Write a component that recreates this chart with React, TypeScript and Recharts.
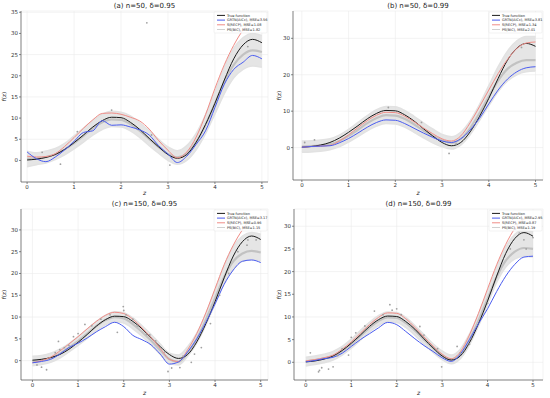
import React from "react";
import {
  ComposedChart,
  Line,
  Area,
  Scatter,
  XAxis,
  YAxis,
  CartesianGrid,
} from "recharts";

const Z = [0, 0.2, 0.4, 0.6, 0.8, 1, 1.2, 1.4, 1.6, 1.8, 2, 2.2, 2.4, 2.6, 2.8, 3, 3.2, 3.4, 3.6, 3.8, 4, 4.2, 4.4, 4.6, 4.8, 5];
const TRUE_F = [0.1, 0.3, 0.7, 1.4, 2.6, 4.2, 6.0, 7.9, 9.4, 10.2, 10.1, 9.0, 7.3, 5.2, 3.2, 1.4, 0.5, 1.4, 4.3, 8.5, 13.5, 19.0, 24.0, 27.3, 28.6, 27.8];

// (a) n=50, d=0.95
const A_GRTN = [2.0, 0.4, -0.3, 0.8, 2.5, 4.5, 6.6, 7.0, 9.4, 8.3, 8.4, 7.9, 7.2, 6.0, 3.5, 1.5, -0.5, 1.0, 3.8, 7.0, 12.5, 18.0, 21.5, 23.2, 24.8, 24.0];
const A_SRECP = [1.0, 0.8, 0.9, 1.6, 3.3, 5.4, 7.6, 9.6, 11.1, 11.2, 10.9, 10.2, 9.3, 7.4, 4.7, 2.4, 0.6, 2.0, 5.5, 10.8, 17.0, 22.6, 27.2, 30.8, 33.0, 33.5];
const A_PSBIC = [0.4, 0.4, 0.8, 1.4, 2.6, 4.1, 5.8, 7.6, 9.0, 9.7, 9.6, 8.6, 7.0, 5.1, 3.2, 1.5, 0.7, 1.6, 4.3, 8.4, 13.4, 18.6, 22.6, 25.0, 26.0, 25.6];
const A_LO = [-1.5, -1.0, -0.6, 0.2, 1.3, 2.7, 4.3, 6.0, 7.3, 8.0, 7.9, 7.0, 5.4, 3.5, 1.7, 0.0, -0.9, 0.0, 2.5, 6.3, 11.0, 15.8, 19.5, 21.5, 22.3, 22.0];
const A_HI = [2.2, 1.8, 2.2, 2.8, 4.0, 5.8, 7.6, 9.4, 10.9, 11.6, 11.4, 10.5, 8.9, 7.0, 5.0, 3.2, 2.3, 3.5, 6.4, 10.8, 16.2, 22.0, 26.5, 29.0, 30.0, 29.5];
const A_PTS_Z = [0.32, 0.71, 1.07, 1.8, 2.55, 2.65, 3.04, 4.7];
const A_PTS_Y = [1.9, -0.9, 6.8, 11.9, 32.5, 6.0, -1.1, 26.9];

// (b) n=50, d=0.99
const B_GRTN = [0.1, 0.3, 0.4, 0.5, 1.3, 2.5, 4.0, 5.6, 6.9, 7.6, 7.5, 6.6, 5.3, 4.0, 2.8, 1.8, 1.4, 2.4, 4.8, 8.0, 12.0, 15.8, 18.8, 20.8, 21.9, 22.2];
const B_SRECP = [0.1, 0.3, 0.4, 0.6, 1.8, 3.5, 5.5, 7.4, 8.9, 9.7, 9.6, 8.6, 7.1, 5.4, 3.8, 2.4, 1.8, 3.2, 6.8, 11.2, 15.8, 20.3, 24.2, 27.2, 28.7, 29.0];
const B_PSBIC = [0.3, 0.4, 0.6, 0.9, 1.8, 3.2, 4.9, 6.7, 8.1, 8.9, 8.8, 7.9, 6.4, 4.7, 3.2, 2.0, 1.3, 2.4, 5.3, 9.4, 14.0, 18.4, 21.6, 23.3, 24.0, 24.0];
const B_LO = [-1.3, -1.2, -1.0, -0.6, 0.2, 1.5, 3.0, 4.6, 5.9, 6.6, 6.5, 5.6, 4.2, 2.7, 1.3, 0.2, -0.4, 0.7, 3.5, 7.4, 11.5, 15.4, 18.3, 20.0, 20.8, 21.0];
const B_HI = [1.8, 1.9, 2.1, 2.4, 3.4, 5.0, 6.9, 8.8, 10.4, 11.3, 11.2, 10.2, 8.6, 6.8, 5.1, 3.6, 3.0, 4.2, 7.3, 11.8, 17.0, 22.2, 26.5, 29.3, 30.5, 30.5];
const B_PTS_Z = [0.06, 0.27, 1.85, 2.56, 3.15, 3.3, 4.7];
const B_PTS_Y = [1.4, 2.1, 11.0, 6.9, -1.6, 1.0, 27.5];

// (c) n=150, d=0.95
const C_GRTN = [-0.5, -0.2, 0.3, 1.5, 3.0, 4.0, 5.2, 6.6, 7.8, 8.8, 7.8, 5.8, 4.8, 3.6, 1.5, -0.8, -0.3, 2.0, 5.0, 8.8, 13.0, 17.5, 20.8, 22.8, 23.1, 22.5];
const C_SRECP = [-0.5, 0.0, 0.8, 2.2, 3.8, 5.5, 7.3, 9.0, 10.4, 11.1, 10.8, 9.5, 7.5, 5.3, 2.8, 0.3, -0.2, 2.5, 6.2, 11.0, 16.5, 22.0, 26.5, 30.0, 32.5, 33.0];
const C_PSBIC = [-0.2, 0.1, 0.6, 1.6, 3.0, 4.5, 6.2, 7.9, 9.3, 10.0, 9.7, 8.4, 6.6, 4.6, 2.4, 0.3, -0.3, 1.8, 5.0, 9.4, 14.3, 19.2, 22.8, 24.6, 25.2, 24.8];
const C_LO = [-1.2, -0.9, -0.4, 0.6, 2.0, 3.5, 5.1, 6.8, 8.2, 8.9, 8.6, 7.3, 5.6, 3.6, 1.4, -0.6, -1.0, 1.0, 4.0, 8.2, 13.0, 17.8, 21.0, 22.8, 23.2, 22.8];
const C_HI = [1.0, 1.2, 1.7, 2.6, 3.9, 5.5, 7.2, 9.0, 10.4, 11.2, 11.0, 9.8, 8.0, 6.0, 3.8, 1.7, 1.3, 3.2, 6.3, 10.8, 16.2, 21.8, 26.2, 28.6, 29.4, 29.0];
const C_PTS_Z = [0.1, 0.2, 0.31, 0.5, 0.57, 0.6, 0.7, 0.8, 0.9, 1.0, 1.15, 1.3, 1.5, 1.7, 1.86, 1.99, 2.0, 2.05, 2.2, 2.3, 2.5, 2.57, 2.7, 2.9, 2.97, 3.05, 3.23, 3.3, 3.48, 3.55, 3.7, 3.9, 4.1, 4.3, 4.5, 4.7, 4.72, 4.9];
const C_PTS_Y = [-1.0, -1.5, -2.1, 1.8, 4.4, 2.5, 3.0, 3.5, 5.5, 6.2, 8.3, 8.0, 9.5, 10.5, 6.5, 12.4, 11.5, 10.5, 9.5, 8.0, 6.0, 5.9, 4.5, 2.0, -2.5, -1.7, -1.6, 1.0, -0.4, 1.5, 3.0, 8.5, 15.0, 20.0, 25.0, 26.5, 27.7, 27.7];

// (d) n=150, d=0.99
const D_GRTN = [0.1, 0.4, 0.8, 1.1, 2.0, 3.5, 5.0, 6.3, 7.6, 8.8, 8.3, 6.8, 5.2, 3.7, 2.4, 1.0, 0.2, 1.8, 5.0, 8.5, 11.8, 15.6, 19.0, 21.6, 23.2, 23.4];
const D_SRECP = [0.3, 0.6, 1.0, 1.6, 2.9, 4.5, 6.4, 8.3, 9.9, 10.9, 10.8, 9.6, 7.7, 5.6, 3.6, 1.8, 0.8, 2.3, 6.0, 10.8, 16.2, 21.5, 26.0, 29.5, 31.5, 32.0];
const D_PSBIC = [0.2, 0.5, 0.9, 1.4, 2.5, 4.0, 5.8, 7.6, 9.1, 9.9, 9.8, 8.7, 7.0, 5.0, 3.1, 1.5, 0.6, 1.8, 5.0, 9.2, 14.0, 18.8, 22.4, 24.4, 25.2, 25.0];
const D_LO = [-0.8, -0.5, -0.1, 0.5, 1.6, 3.1, 4.9, 6.7, 8.1, 8.9, 8.8, 7.7, 6.0, 4.0, 2.2, 0.6, -0.3, 0.8, 3.8, 8.0, 12.8, 17.6, 21.0, 22.8, 23.4, 23.2];
const D_HI = [1.1, 1.4, 1.8, 2.4, 3.5, 5.1, 7.0, 8.8, 10.3, 11.1, 11.0, 9.9, 8.1, 6.1, 4.1, 2.5, 1.6, 2.9, 6.2, 10.6, 15.6, 21.0, 25.4, 28.2, 29.2, 28.8];
const D_PTS_Z = [0.1, 0.28, 0.3, 0.35, 0.5, 0.6, 0.7, 0.8, 0.94, 1.0, 1.1, 1.3, 1.51, 1.7, 1.85, 1.9, 2.0, 2.1, 2.51, 2.6, 2.9, 2.99, 3.33, 3.4, 3.6, 4.0, 4.5, 4.7, 4.8, 4.85, 5.0];
const D_PTS_Y = [2.1, -2.1, -1.8, -1.2, -1.5, -1.0, 1.5, 3.0, 1.6, 5.5, 6.5, 8.0, 11.3, 10.5, 12.7, 11.5, 11.8, 10.5, 7.9, 6.0, 3.0, -1.0, 3.5, 2.0, 4.0, 13.0, 25.0, 28.5, 27.0, 25.0, 27.5];

const LEGEND_A = ["True function", "GRTN(AICc), MSE=3.56", "S(RECP), MSE=1.08", "PS(BIC), MSE=1.82"];
const LEGEND_B = ["True function", "GRTN(AICc), MSE=3.81", "S(RECP), MSE=1.34", "PS(BIC), MSE=2.01"];
const LEGEND_C = ["True function", "GRTN(AICc), MSE=3.17", "S(RECP), MSE=0.96", "PS(BIC), MSE=1.15"];
const LEGEND_D = ["True function", "GRTN(AICc), MSE=2.95", "S(RECP), MSE=0.87", "PS(BIC), MSE=1.19"];

const X_TICKS = [0, 1, 2, 3, 4, 5];
const FONT = "'DejaVu Sans', sans-serif";
const COLORS = { truth: "#1a1a1a", grtn: "#4a5cf0", srecp: "#f08c86", psbic: "#c2c2c2" };

type PanelProps = {
  left: number;
  top: number;
  width: number;
  height: number;
  margin: { top: number; right: number; bottom: number; left: number };
  xDomain: [number, number];
  yDomain: [number, number];
  yTicks: number[];
  title: string;
  legend: string[];
  grtn: number[];
  srecp: number[];
  psbic: number[];
  lo: number[];
  hi: number[];
  ptsZ: number[];
  ptsY: number[];
};

function Panel(p: PanelProps) {
  const rows = Z.map((z, i) => ({
    z,
    truth: TRUE_F[i],
    grtn: p.grtn[i],
    srecp: p.srecp[i],
    psbic: p.psbic[i],
    band: [p.lo[i], p.hi[i]],
  }));
  const pts = p.ptsZ.map((z, i) => ({ z, y: p.ptsY[i] }));
  const plotL = p.margin.left;
  const plotR = p.width - p.margin.right;
  const plotT = p.margin.top;
  const plotB = p.height - p.margin.bottom;
  const cx = (plotL + plotR) / 2;
  const lgW = 53;
  const lgX = plotR - lgW - 1;
  const lgY = plotT + 1;
  const legendColors = [COLORS.truth, COLORS.grtn, COLORS.srecp, "#d0d0d0"];
  const tick = { fontSize: 5.5, fill: "#333", fontFamily: FONT };

  return (
    <div style={{ position: "absolute", left: p.left, top: p.top, width: p.width, height: p.height }}>
      <ComposedChart
        width={p.width}
        height={p.height}
        data={rows}
        margin={{ top: p.margin.top, right: p.margin.right, bottom: 0, left: 0 }}
      >
        <CartesianGrid stroke="#ebebeb" strokeWidth={0.6} />
        <XAxis
          dataKey="z"
          type="number"
          domain={p.xDomain}
          ticks={X_TICKS}
          allowDataOverflow
          height={p.margin.bottom}
          tick={tick}
          tickSize={2}
          tickMargin={1}
          stroke="#555"
          strokeWidth={0.7}
        />
        <XAxis xAxisId="top" orientation="top" type="number" domain={p.xDomain} height={0} tick={false} tickLine={false} stroke="#555" strokeWidth={0.7} />
        <YAxis
          type="number"
          domain={p.yDomain}
          ticks={p.yTicks}
          allowDataOverflow
          width={p.margin.left}
          tick={tick}
          tickSize={2}
          tickMargin={1}
          stroke="#555"
          strokeWidth={0.7}
        />
        <YAxis yAxisId="right" orientation="right" type="number" domain={p.yDomain} width={0} tick={false} tickLine={false} stroke="#555" strokeWidth={0.7} />
        <Area dataKey="band" type="monotone" stroke="#e2e2e2" strokeWidth={1.5} fill="#dadada" fillOpacity={0.7} isAnimationActive={false} />
        <Scatter data={pts} dataKey="y" fill="#9a9a9a" shape={(s: any) => <circle cx={s.cx} cy={s.cy} r={0.9} fill="#a0a0a0" />} isAnimationActive={false} />
        <Line dataKey="psbic" type="monotone" stroke={COLORS.psbic} strokeWidth={2.2} dot={false} isAnimationActive={false} />
        <Line dataKey="truth" type="monotone" stroke={COLORS.truth} strokeWidth={1} dot={false} isAnimationActive={false} />
        <Line dataKey="srecp" type="monotone" stroke={COLORS.srecp} strokeWidth={1} dot={false} isAnimationActive={false} />
        <Line dataKey="grtn" type="monotone" stroke={COLORS.grtn} strokeWidth={1} dot={false} isAnimationActive={false} />
      </ComposedChart>
      <svg width={p.width} height={p.height} style={{ position: "absolute", left: 0, top: 0, pointerEvents: "none" }} fontFamily={FONT}>
        <text x={cx} y={8} textAnchor="middle" fontSize={7} fill="#222">{p.title}</text>
        <text x={cx} y={p.height - 3} textAnchor="middle" fontSize={6} fill="#222" fontStyle="italic">z</text>
        <text x={6} y={(plotT + plotB) / 2} textAnchor="middle" fontSize={5.5} fill="#222" transform={`rotate(-90 6 ${(plotT + plotB) / 2})`}>f(z)</text>
        <rect x={lgX} y={lgY} width={lgW} height={21} fill="#ffffff" fillOpacity={0.85} stroke="#e0e0e0" strokeWidth={0.4} rx={1} />
        {p.legend.map((label, i) => (
          <g key={label}>
            <line x1={lgX + 3} x2={lgX + 11} y1={lgY + 3.4 + i * 4.7} y2={lgY + 3.4 + i * 4.7} stroke={legendColors[i]} strokeWidth={1} />
            <text x={lgX + 13} y={lgY + 4.7 + i * 4.7} fontSize={3.5} fill="#222">{label}</text>
          </g>
        ))}
      </svg>
    </div>
  );
}

export default function App() {
  return (
    <div style={{ position: "absolute", left: 0, top: 0, width: 550, height: 398, background: "#fff", overflow: "hidden" }}>
      <Panel left={0} top={0} width={275} height={198} margin={{ top: 11, right: 7, bottom: 16, left: 21 }}
        xDomain={[-0.13, 5.13]} yDomain={[-5.1, 35.3]} yTicks={[0, 5, 10, 15, 20, 25, 30, 35]}
        title="(a) n=50, δ=0.95" legend={LEGEND_A}
        grtn={A_GRTN} srecp={A_SRECP} psbic={A_PSBIC} lo={A_LO} hi={A_HI} ptsZ={A_PTS_Z} ptsY={A_PTS_Y} />
      <Panel left={275} top={0} width={275} height={198} margin={{ top: 11, right: 7, bottom: 18, left: 18 }}
        xDomain={[-0.19, 5.16]} yDomain={[-8.9, 37.5]} yTicks={[0, 10, 20, 30]}
        title="(b) n=50, δ=0.99" legend={LEGEND_B}
        grtn={B_GRTN} srecp={B_SRECP} psbic={B_PSBIC} lo={B_LO} hi={B_HI} ptsZ={B_PTS_Z} ptsY={B_PTS_Y} />
      <Panel left={0} top={198} width={275} height={200} margin={{ top: 11, right: 7, bottom: 18, left: 21 }}
        xDomain={[-0.25, 5.16]} yDomain={[-4.45, 34.8]} yTicks={[0, 5, 10, 15, 20, 25, 30]}
        title="(c) n=150, δ=0.95" legend={LEGEND_C}
        grtn={C_GRTN} srecp={C_SRECP} psbic={C_PSBIC} lo={C_LO} hi={C_HI} ptsZ={C_PTS_Z} ptsY={C_PTS_Y} />
      <Panel left={275} top={198} width={275} height={200} margin={{ top: 11, right: 7, bottom: 18, left: 19 }}
        xDomain={[-0.26, 5.22]} yDomain={[-3.9, 33.8]} yTicks={[0, 5, 10, 15, 20, 25, 30]}
        title="(d) n=150, δ=0.99" legend={LEGEND_D}
        grtn={D_GRTN} srecp={D_SRECP} psbic={D_PSBIC} lo={D_LO} hi={D_HI} ptsZ={D_PTS_Z} ptsY={D_PTS_Y} />
    </div>
  );
}
